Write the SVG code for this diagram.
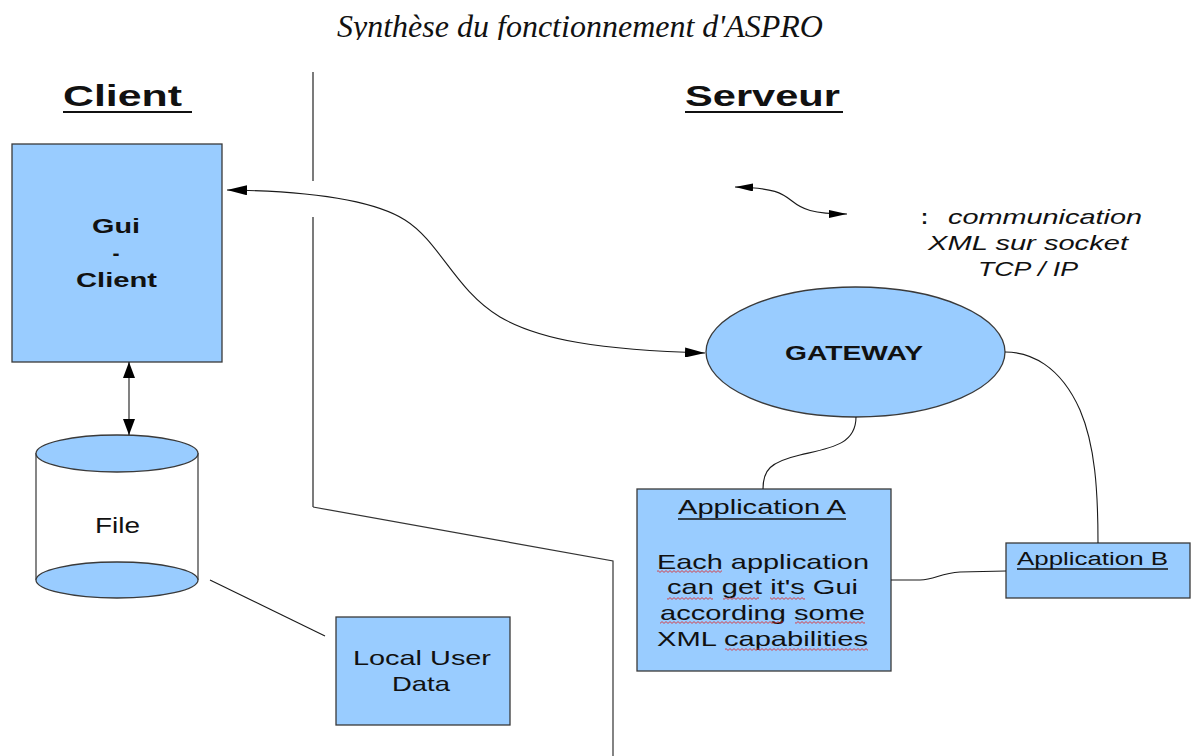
<svg xmlns="http://www.w3.org/2000/svg" width="1191" height="756" viewBox="0 0 1191 756">
  <style>
    .box { fill: #99ccff; stroke: #3a3a3a; stroke-width: 1.3; }
    .lbl { font-family: "Liberation Sans", Arial, sans-serif; fill: #111; }
    .b { font-weight: bold; }
    .it { font-style: italic; }
    .conn { fill: none; stroke: #1a1a1a; stroke-width: 1.1; }
    .div { fill: none; stroke: #5a5a5a; stroke-width: 1.6; }
    .ul { stroke: #111; stroke-width: 1.5; }
    .ulh { stroke: #111; stroke-width: 2.2; }
  </style>
  <defs>
    <marker id="ah" viewBox="0 0 20 10" refX="20" refY="5" markerWidth="20" markerHeight="10" markerUnits="userSpaceOnUse" orient="auto-start-reverse">
      <path d="M0,0 L20,5 L0,10 z" fill="#000"/>
    </marker>
    <marker id="ahs" viewBox="0 0 18 8" refX="18" refY="4" markerWidth="18" markerHeight="8" markerUnits="userSpaceOnUse" orient="auto-start-reverse">
      <path d="M0,0 L18,4 L0,8 z" fill="#000"/>
    </marker>
    <marker id="ahv" viewBox="0 0 16 12" refX="16" refY="6" markerWidth="16" markerHeight="12" markerUnits="userSpaceOnUse" orient="auto-start-reverse">
      <path d="M0,0 L16,6 L0,12 z" fill="#000"/>
    </marker>
    <pattern id="wave" patternUnits="userSpaceOnUse" width="4" height="3">
      <path d="M0,2.4 L2,0.6 L4,2.4" fill="none" stroke="#e02020" stroke-width="0.8"/>
    </pattern>
    <clipPath id="titleClip">
      <rect x="0" y="0" width="1191" height="40"/>
    </clipPath>
  </defs>

  <rect width="1191" height="756" fill="#fff"/>

  <!-- title -->
  <g id="title" clip-path="url(#titleClip)">
    <text x="337" y="37" font-family="'Liberation Serif', 'Times New Roman', serif" font-style="italic" font-size="31" fill="#111" textLength="486" lengthAdjust="spacingAndGlyphs">Synthèse du fonctionnement d'ASPRO</text>
  </g>

  <!-- section headers -->
  <g id="header-client">
    <text class="lbl b" x="63" y="106" font-size="30" textLength="119" lengthAdjust="spacingAndGlyphs">Client</text>
    <line class="ulh" x1="63" y1="112" x2="192" y2="112"/>
  </g>
  <g id="header-serveur">
    <text class="lbl b" x="685" y="106" font-size="30" textLength="155" lengthAdjust="spacingAndGlyphs">Serveur</text>
    <line class="ulh" x1="685" y1="112" x2="843" y2="112"/>
  </g>

  <!-- client / server boundary -->
  <g id="boundary">
    <line class="div" x1="313" y1="72" x2="313" y2="181"/>
    <path class="div" d="M313,217 L313,507"/>
    <path fill="none" stroke="#333" stroke-width="1.2" d="M313,507 L613,561 L613,756"/>
  </g>

  <!-- Gui - Client -->
  <g id="gui-client">
    <rect class="box" x="12" y="144" width="210" height="218"/>
    <text class="lbl b" x="92" y="233" font-size="21" textLength="48" lengthAdjust="spacingAndGlyphs">Gui</text>
    <text class="lbl b" x="116" y="260" font-size="21" text-anchor="middle">-</text>
    <text class="lbl b" x="76" y="287" font-size="21" textLength="81" lengthAdjust="spacingAndGlyphs">Client</text>
  </g>

  <!-- File store -->
  <g id="file">
    <rect x="36" y="453" width="162" height="127" fill="#fff"/>
    <line x1="36" y1="453" x2="36" y2="580" stroke="#222" stroke-width="1.1"/>
    <line x1="198" y1="453" x2="198" y2="580" stroke="#222" stroke-width="1.1"/>
    <ellipse class="box" cx="117" cy="580" rx="81" ry="18"/>
    <ellipse class="box" cx="117" cy="453.5" rx="81" ry="18.5"/>
    <text class="lbl" x="95" y="533" font-size="22" textLength="45" lengthAdjust="spacingAndGlyphs">File</text>
  </g>

  <!-- Local User Data -->
  <g id="local-user-data">
    <rect class="box" x="336" y="617" width="174" height="108"/>
    <text class="lbl" x="353" y="665" font-size="21" textLength="138" lengthAdjust="spacingAndGlyphs">Local User</text>
    <text class="lbl" x="392" y="691" font-size="21" textLength="58" lengthAdjust="spacingAndGlyphs">Data</text>
  </g>

  <!-- GATEWAY -->
  <g id="gateway">
    <ellipse class="box" cx="855.5" cy="352" rx="149.5" ry="65"/>
    <text class="lbl b" x="785" y="360" font-size="21" textLength="138" lengthAdjust="spacingAndGlyphs">GATEWAY</text>
  </g>

  <!-- Application A -->
  <g id="application-a">
    <rect class="box" x="637" y="489" width="254" height="182"/>
    <text class="lbl" x="678" y="514" font-size="21" textLength="168" lengthAdjust="spacingAndGlyphs">Application A</text>
    <line class="ul" x1="678" y1="519" x2="846" y2="519"/>
    <text class="lbl" x="657" y="569" font-size="21" textLength="212" lengthAdjust="spacingAndGlyphs">Each application</text>
    <text class="lbl" x="667" y="594" font-size="21" textLength="191" lengthAdjust="spacingAndGlyphs">can get it's Gui</text>
    <text class="lbl" x="660" y="620" font-size="21" textLength="205" lengthAdjust="spacingAndGlyphs">according some</text>
    <text class="lbl" x="657" y="646" font-size="21" textLength="211" lengthAdjust="spacingAndGlyphs">XML capabilities</text>
    <!-- spell-check squiggles -->
    <g fill="url(#wave)">
      <rect x="657" y="570" width="65" height="3"/>
      <rect x="667" y="597" width="46" height="3"/>
      <rect x="723" y="597" width="36" height="3"/>
      <rect x="770" y="597" width="35" height="3"/>
      <rect x="660" y="621" width="123" height="3"/>
      <rect x="795" y="621" width="70" height="3"/>
      <rect x="725" y="648" width="143" height="3"/>
    </g>
  </g>

  <!-- Application B -->
  <g id="application-b">
    <rect class="box" x="1006" y="543" width="184" height="55"/>
    <text class="lbl" x="1017" y="565" font-size="18" textLength="151" lengthAdjust="spacingAndGlyphs">Application B</text>
    <line class="ul" x1="1017" y1="569" x2="1168" y2="569" stroke-width="1.3"/>
  </g>

  <!-- legend -->
  <g id="legend">
    <path class="conn" d="M735,187 C775,188 782,193 792,201 C802,209 812,214 847,214" marker-start="url(#ahs)" marker-end="url(#ahs)"/>
    <text class="lbl b" x="921" y="224" font-size="21">:</text>
    <text class="lbl it" x="948" y="224" font-size="21" textLength="194" lengthAdjust="spacingAndGlyphs">communication</text>
    <text class="lbl it" x="928" y="250" font-size="21" textLength="200" lengthAdjust="spacingAndGlyphs">XML sur socket</text>
    <text class="lbl it" x="978" y="276" font-size="21" textLength="100" lengthAdjust="spacingAndGlyphs">TCP / IP</text>
  </g>

  <!-- connectors -->
  <g id="connectors">
    <path class="conn" d="M227,190 C300,191 370,198 405,220 C440,242 455,290 500,317 C540,340 600,350 705,353" marker-start="url(#ah)" marker-end="url(#ah)"/>
    <line class="conn" x1="129" y1="362" x2="129" y2="435" stroke-width="1.7" marker-start="url(#ahv)" marker-end="url(#ahv)"/>
    <line class="conn" x1="210" y1="580" x2="325" y2="636" stroke="#333"/>
    <path class="conn" d="M856,417 C856,445 830,448 800,455 C770,462 763,470 763,489"/>
    <path class="conn" d="M1005,352 C1030,352 1060,365 1080,410 C1095,445 1098,490 1098,543"/>
    <path class="conn" d="M891,580 L920,580 C935,580 940,573 960,572 L1006,571"/>
  </g>
</svg>
